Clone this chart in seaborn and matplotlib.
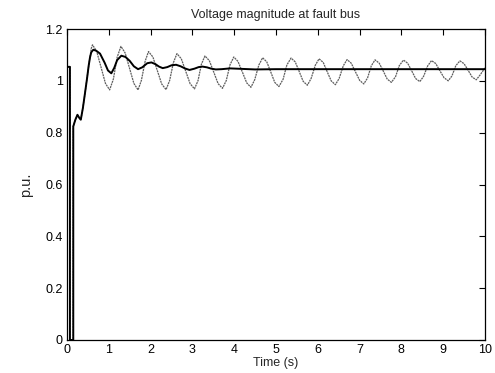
import matplotlib
matplotlib.use("Agg")
import matplotlib.pyplot as plt
import seaborn as sns
import pandas as pd

# Fault transient common to both responses (pre-fault, fault, clearing)
t_common = [0.0, 0.07, 0.07, 0.15, 0.15, 0.20, 0.25, 0.29, 0.33, 0.38, 0.43, 0.48, 0.52, 0.55]
v_common = [1.054, 1.054, 0.0, 0.0, 0.824, 0.850, 0.869, 0.858, 0.850, 0.895, 0.952, 1.010, 1.060, 1.090]

# Lightly damped response (thin grey trace)
t_osc = [0.58, 0.61, 0.71, 0.815, 0.92, 1.02, 1.11, 1.20,
         1.29, 1.39, 1.495, 1.60, 1.70, 1.78, 1.87,
         1.95, 2.055, 2.16, 2.265, 2.37, 2.455, 2.545,
         2.63, 2.735, 2.84, 2.945, 3.05, 3.135, 3.215,
         3.30, 3.405, 3.51, 3.615, 3.72, 3.81, 3.90,
         3.99, 4.09, 4.195, 4.30, 4.40, 4.49, 4.59,
         4.68, 4.78, 4.875, 4.97, 5.07, 5.17, 5.26,
         5.36, 5.46, 5.555, 5.65, 5.75, 5.84, 5.94,
         6.03, 6.13, 6.225, 6.32, 6.42, 6.51, 6.61,
         6.70, 6.80, 6.90, 7.00, 7.10, 7.19, 7.28,
         7.37, 7.47, 7.565, 7.66, 7.76, 7.86, 7.95,
         8.05, 8.15, 8.245, 8.34, 8.44, 8.53, 8.63,
         8.72, 8.82, 8.92, 9.02, 9.12, 9.21, 9.30,
         9.40, 9.50, 9.595, 9.69, 9.79, 9.88, 10.0]
v_osc = [1.125, 1.139, 1.114, 1.052, 0.990, 0.965, 1.007, 1.091,
         1.133, 1.108, 1.049, 0.990, 0.965, 1.002, 1.076,
         1.113, 1.092, 1.040, 0.988, 0.966, 1.001, 1.070,
         1.105, 1.085, 1.037, 0.989, 0.969, 1.001, 1.064,
         1.096, 1.078, 1.034, 0.989, 0.971, 1.001, 1.062,
         1.092, 1.075, 1.034, 0.992, 0.975, 1.004, 1.061,
         1.089, 1.073, 1.034, 0.994, 0.978, 1.006, 1.061,
         1.088, 1.073, 1.036, 0.998, 0.983, 1.009, 1.060,
         1.085, 1.071, 1.035, 1.000, 0.985, 1.009, 1.058,
         1.082, 1.068, 1.035, 1.002, 0.988, 1.011, 1.058,
         1.081, 1.068, 1.038, 1.007, 0.994, 1.016, 1.059,
         1.080, 1.068, 1.039, 1.009, 0.997, 1.017, 1.058,
         1.078, 1.067, 1.039, 1.012, 1.000, 1.019, 1.058,
         1.077, 1.066, 1.041, 1.015, 1.004, 1.022, 1.050]

# Well damped response (thick black trace)
t_damp = [0.58, 0.63, 0.70, 0.79, 0.90, 0.98, 1.06, 1.13, 1.20, 1.30,
          1.40, 1.50, 1.60, 1.70, 1.80, 1.92, 2.02, 2.12, 2.20, 2.29,
          2.40, 2.50, 2.61, 2.72, 2.82, 2.93, 3.05, 3.15, 3.24, 3.35,
          3.45, 3.56, 3.70, 3.90, 4.20, 4.50, 5.0, 6.0, 7.0, 8.0, 9.0, 10.0]
v_damp = [1.110, 1.120, 1.116, 1.105, 1.070, 1.040, 1.029, 1.050, 1.080, 1.097,
          1.092, 1.077, 1.056, 1.045, 1.052, 1.068, 1.071, 1.064, 1.055, 1.049,
          1.053, 1.060, 1.062, 1.056, 1.048, 1.042, 1.047, 1.053, 1.055, 1.052,
          1.047, 1.044, 1.045, 1.048, 1.046, 1.044, 1.045, 1.045, 1.045, 1.045, 1.045, 1.045]

x_ticks = [0, 1, 2, 3, 4, 5, 6, 7, 8, 9, 10]
y_ticks = [0, 0.2, 0.4, 0.6, 0.8, 1, 1.2]
y_tick_labels = ["0", "0.2", "0.4", "0.6", "0.8", "1", "1.2"]

sns.set_style("white")
plt.rcParams['font.family'] = ['Liberation Sans', 'DejaVu Sans']

osc = pd.DataFrame({"t": t_common + t_osc, "v": v_common + v_osc})
damp = pd.DataFrame({"t": t_common + t_damp, "v": v_common + v_damp})

fig = plt.figure(figsize=(4.95, 3.73), dpi=100)
ax = fig.add_axes([67 / 495, 33 / 373, 418 / 495, 311 / 373])

sns.lineplot(data=osc, x="t", y="v", ax=ax, estimator=None, sort=False,
             color="#5e5e5e", linewidth=0.9, linestyle=(0, (1.6, 0.6)))
sns.lineplot(data=damp, x="t", y="v", ax=ax, estimator=None, sort=False,
             color="black", linewidth=1.4)

ax.set_xlim(0, 10)
ax.set_ylim(0, 1.2)
ax.set_xticks(x_ticks)
ax.set_xticklabels([str(v) for v in x_ticks])
ax.set_yticks(y_ticks)
ax.set_yticklabels(y_tick_labels)
ax.tick_params(direction="in", length=4, width=0.8, top=True, right=True,
               labelsize=9, colors="black", pad=3)
for s in ax.spines.values():
    s.set_color("black")
    s.set_linewidth(0.9)

ax.set_title("Voltage magnitude at fault bus", fontsize=9, pad=8)
ax.set_xlabel("Time (s)", fontsize=9, labelpad=0.5)
ax.set_ylabel("p.u.", fontsize=10.5, labelpad=9)

fig.savefig("out.png", dpi=100)
